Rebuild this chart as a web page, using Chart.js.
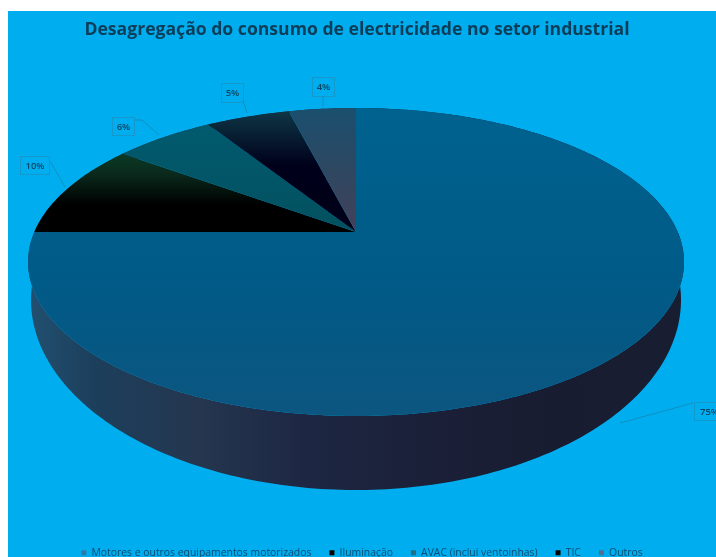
<!DOCTYPE html>
<html lang="pt">
<head>
<meta charset="utf-8">
<title>Desagregação do consumo de electricidade no setor industrial</title>
<style>
  html, body { margin: 0; padding: 0; background: #ffffff; overflow: hidden; }
  #frame { position: absolute; left: 8px; top: 11px; width: 708px; height: 546px; background: #00aeef; }
  canvas { display: block; }
</style>
<script src="https://cdn.jsdelivr.net/npm/chart.js@4"></script>
</head>
<body>
<div id="frame"><canvas id="chart" width="708" height="546"></canvas></div>
<script>
// Shares of industrial electricity use, in percent
const categories = [
  'Motores e outros equipamentos motorizados',
  'Iluminação',
  'AVAC (inclui ventoinhas)',
  'TIC',
  'Outros'
];
const shares = [75, 10, 6, 5, 4];

// Legend swatch colours and the vertical shading of each slice's top face
const swatchColors = ['#2f7ba8', '#000000', '#1f6f85', '#000000', '#4f7090'];
const faceShades = [
  [[0, '#00628f'], [0.55, '#005a87'], [1, '#0c5680']],
  [[0, '#0b3a26'], [0.25, '#0a2a1c'], [0.65, '#000000'], [1, '#000000']],
  [[0, '#015a6e'], [1, '#03515f']],
  [[0, '#0e3646'], [0.45, '#00001a'], [1, '#000018']],
  [[0, '#1a4f6e'], [0.6, '#32465f'], [1, '#454058']]
];
const wallShade = [
  [0, '#225070'], [0.1, '#1c3f5c'], [0.26, '#25364f'],
  [0.42, '#1d2743'], [0.6, '#1b2039'], [0.8, '#181c30'], [1, '#181e32']
];

// Tilted-disc geometry in canvas pixels; "lean" moves the apex towards the far edge
const topDisc = { cx: 348, cy: 251, rx: 328, ry: 154 };
const baseDisc = { cx: 348, cy: 289, rx: 325, ry: 190 };
const lean = -0.195;

// Callout boxes and their leader lines, in canvas pixels
const calloutBoxes = [
  { x: 686, y: 391, w: 30, h: 18, leader: [[685, 392], [612, 412]] },
  { x: 12, y: 145, w: 29, h: 18, leader: [[42, 150], [57, 176]] },
  { x: 104, y: 106, w: 22, h: 18, leader: [[126, 109], [134, 109], [151, 124]] },
  { x: 213, y: 72, w: 22, h: 19, leader: [[235, 89], [239, 102]] },
  { x: 304, y: 66, w: 22, h: 19, leader: [[315, 85], [315, 96]] }
];

const { PieController, ArcElement } = Chart;

// Projects an angle on the unit circle onto a disc seen in perspective
function project(disc, angle) {
  const u = Math.sin(angle), v = Math.cos(angle);
  const d = 1 + lean * u;
  return {
    x: disc.cx + disc.rx * v * Math.sqrt(1 - lean * lean) / d,
    y: disc.cy + disc.ry * (u + lean) / d
  };
}

function shade(ctx, x0, y0, x1, y1, stops) {
  const g = ctx.createLinearGradient(x0, y0, x1, y1);
  stops.forEach(([p, c]) => g.addColorStop(p, c));
  return g;
}

function sampleAngles(start, end) {
  const n = Math.max(8, Math.ceil((end - start) * 60));
  return Array.from({ length: n + 1 }, (_, i) => start + (end - start) * i / n);
}

// Arc element that paints its slice on the tilted disc
class TiltedArc extends ArcElement {
  static id = 'tiltedArc';
  static defaults = ArcElement.defaults;

  drawWall(ctx) {
    const { startAngle, endAngle } = this.getProps(['startAngle', 'endAngle']);
    const angles = sampleAngles(startAngle, endAngle);
    ctx.beginPath();
    angles.forEach((a, i) => {
      const p = project(topDisc, a);
      i ? ctx.lineTo(p.x, p.y) : ctx.moveTo(p.x, p.y);
    });
    angles.slice().reverse().forEach(a => {
      const p = project(baseDisc, a);
      ctx.lineTo(p.x, p.y);
    });
    ctx.closePath();
    ctx.fillStyle = shade(ctx, topDisc.cx - topDisc.rx, 0, topDisc.cx + topDisc.rx, 0, wallShade);
    ctx.fill();
  }

  draw(ctx) {
    const { startAngle, endAngle } = this.getProps(['startAngle', 'endAngle']);
    const pts = sampleAngles(startAngle, endAngle).map(a => project(topDisc, a));
    const apex = { x: topDisc.cx, y: topDisc.cy + topDisc.ry * lean };
    const ys = pts.map(p => p.y).concat(apex.y);
    ctx.beginPath();
    ctx.moveTo(apex.x, apex.y);
    pts.forEach(p => ctx.lineTo(p.x, p.y));
    ctx.closePath();
    ctx.fillStyle = shade(ctx, 0, Math.min(...ys), 0, Math.max(...ys), faceShades[this.$context.dataIndex]);
    ctx.fill();
  }
}

// Pie controller that draws the side wall before the slice faces
class TiltedPieController extends PieController {
  static id = 'tiltedPie';
  static defaults = { ...PieController.defaults, dataElementType: 'tiltedArc' };
  static overrides = PieController.overrides;

  draw() {
    const ctx = this.chart.ctx;
    this.getMeta().data.forEach(el => el.drawWall(ctx));
    super.draw();
  }
}

// Percentage callouts with a thin box and leader line
const callouts = {
  id: 'callouts',
  afterDatasetsDraw(chart) {
    const ctx = chart.ctx;
    const values = chart.data.datasets[0].data;
    const total = values.reduce((a, b) => a + b, 0);
    ctx.save();
    calloutBoxes.forEach((box, i) => {
      ctx.strokeStyle = '#1598cb';
      ctx.lineWidth = 1;
      ctx.strokeRect(box.x + 0.5, box.y + 0.5, box.w, box.h);
      ctx.strokeStyle = '#1090c2';
      ctx.beginPath();
      box.leader.forEach(([x, y], k) => k ? ctx.lineTo(x, y) : ctx.moveTo(x, y));
      ctx.stroke();
      ctx.fillStyle = '#0c4562';
      ctx.font = '600 9.5px "Open Sans"';
      ctx.textAlign = 'center';
      ctx.textBaseline = 'middle';
      ctx.fillText(Math.round(values[i] / total * 100) + '%', box.x + box.w / 2 + 0.5, box.y + box.h / 2 + 1);
    });
    ctx.restore();
  }
};

// The heading sits a little left of the canvas centre
const titleNudge = {
  id: 'titleNudge',
  afterLayout(chart) {
    chart.titleBlock.right -= 10;
  }
};

Chart.register(TiltedArc, TiltedPieController);

new Chart(document.getElementById('chart'), {
  type: 'tiltedPie',
  data: {
    labels: categories,
    datasets: [{ data: shares, backgroundColor: swatchColors, borderWidth: 0 }]
  },
  options: {
    responsive: false,
    animation: false,
    layout: { padding: { top: 0, left: 0, right: 0, bottom: -11 } },
    plugins: {
      tooltip: { enabled: false },
      title: {
        display: true,
        text: 'Desagregação do consumo de electricidade no setor industrial',
        color: '#0c3d59',
        font: { family: '"Open Sans"', size: 17.6, weight: 'bold' },
        padding: { top: 8, bottom: 0 }
      },
      legend: {
        display: true,
        position: 'bottom',
        labels: {
          color: '#0c4d70',
          font: { family: '"Open Sans"', size: 10.4 },
          boxWidth: 5,
          boxHeight: 5,
          padding: 18
        }
      }
    }
  },
  plugins: [callouts, titleNudge]
});
</script>
</body>
</html>
